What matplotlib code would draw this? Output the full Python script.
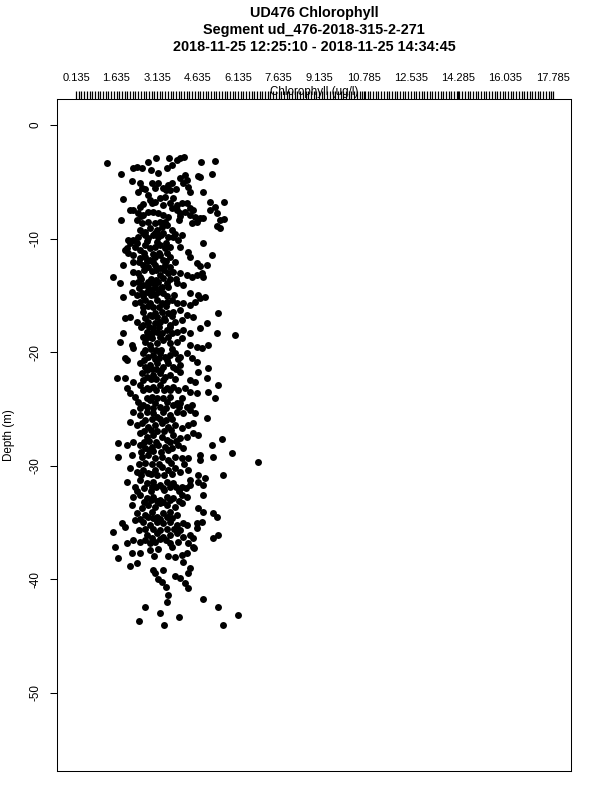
import numpy as np
import matplotlib
matplotlib.use("Agg")
import matplotlib.pyplot as plt

plt.rcParams['font.family'] = ['Liberation Sans', 'DejaVu Sans']

# chlorophyll (ug/l) and depth (m)
chl = [
    1.28, 1.80, 2.25, 2.39, 2.58, 2.80, 2.91, 3.10, 3.17, 3.50,
    3.58, 3.69, 3.87, 3.99, 4.13, 4.76, 5.28, 4.17, 4.25, 4.65,
    4.73, 5.17, 2.21, 2.51, 2.58, 2.43, 2.95, 3.17, 3.36, 3.54,
    3.69, 3.62, 3.99, 4.10, 4.28, 4.36, 4.84, 1.88, 2.13, 2.51,
    2.80, 2.88, 3.06, 3.25, 3.43, 3.73, 3.87, 4.06, 4.25, 4.36,
    4.47, 5.10, 5.62, 2.25, 2.43, 2.62, 2.80, 2.99, 3.17, 3.69,
    3.87, 3.99, 4.17, 4.36, 4.54, 4.73, 5.10, 5.28, 5.36, 5.47,
    5.62, 1.80, 2.39, 2.58, 2.80, 3.06, 3.25, 3.43, 3.95, 4.62,
    4.84, 5.36, 5.47, 2.51, 2.69, 2.88, 3.13, 3.32, 3.50, 3.69,
    4.06, 4.43, 2.25, 2.43, 2.62, 2.80, 2.99, 3.17, 3.36, 3.54,
    2.06, 2.03, 2.13, 3.73, 3.91, 4.84, 3.99, 2.32, 2.51, 2.69,
    2.88, 3.06, 3.25, 3.43, 3.62, 1.95, 2.06, 2.25, 4.28, 4.36,
    5.17, 2.51, 2.69, 2.88, 3.06, 3.25, 3.36, 3.62, 2.25, 1.88,
    2.62, 2.80, 3.06, 3.25, 3.43, 3.62, 4.62, 4.73, 4.99, 1.51,
    1.76, 2.25, 2.43, 2.51, 3.25, 3.36, 3.54, 3.73, 3.99, 4.25,
    4.43, 4.62, 4.80, 4.84, 2.25, 2.43, 2.62, 2.80, 2.99, 3.17,
    3.32, 3.50, 3.87, 4.10, 1.88, 2.21, 2.39, 2.58, 2.76, 2.95,
    3.17, 3.36, 4.36, 4.65, 4.73, 4.91, 2.32, 2.51, 2.69, 2.88,
    3.13, 3.32, 3.50, 3.69, 3.87, 4.10, 4.36, 4.54, 5.39, 1.95,
    2.13, 2.62, 2.88, 3.06, 3.32, 3.54, 3.73, 3.99, 4.25, 4.47,
    4.99, 2.39, 2.62, 2.80, 3.06, 3.25, 3.43, 3.62, 3.80, 4.06,
    1.88, 2.76, 2.95, 3.13, 3.32, 3.50, 3.69, 3.87, 4.10, 4.36,
    4.73, 5.36, 6.02,
    1.76, 2.21, 2.25, 2.69, 2.88, 3.13, 3.36,
    3.62, 3.87, 4.06, 4.36, 4.62, 4.80, 5.02, 2.03, 1.95, 2.62,
    2.80, 2.99, 3.25, 3.43, 3.62, 3.80, 3.99, 4.25, 2.51, 2.69,
    2.88, 3.13, 3.36, 3.54, 3.73, 3.99, 4.43, 4.62, 5.02, 3.99,
    4.65, 1.65, 1.95, 2.25, 2.58, 2.76, 2.99, 3.25, 3.43, 3.62,
    4.36, 4.54, 4.99, 5.39, 2.03, 2.13, 2.32, 2.51, 2.76, 2.99,
    3.25, 3.50, 3.73, 3.91, 4.17, 4.36, 4.62, 5.02, 5.28, 2.43,
    2.62, 2.88, 3.06, 3.25, 3.50, 3.73, 3.99, 4.25, 4.43, 3.87,
    2.25, 2.51, 2.76, 2.99, 3.13, 3.36, 3.62, 3.87, 4.10, 4.36,
    4.54, 4.99, 2.13, 2.39, 2.58, 2.80, 3.06, 3.32, 3.54, 3.80,
    4.06, 4.28, 4.47, 1.69, 2.03, 2.25, 2.51, 2.76, 2.99, 3.32,
    3.50, 3.73, 3.99, 4.25, 4.47, 4.65, 5.54, 5.17, 2.51, 2.69,
    2.95, 3.17, 3.43, 3.69, 3.91, 4.10, 1.69, 2.21, 2.58, 2.80,
    3.06, 3.32, 3.54, 3.80, 4.06, 4.28, 4.73, 4.73, 5.21, 5.91,
    6.87, 2.13, 2.39, 2.62, 2.80, 3.06, 3.32, 3.54, 3.80, 3.99,
    4.28, 4.65, 4.91, 5.58, 2.03, 2.32, 2.51, 2.76, 2.99, 3.25,
    3.50, 3.73, 4.06, 4.36, 4.36, 4.65, 4.84, 2.25, 2.51, 2.76,
    2.99, 3.25, 3.50, 3.73, 4.06, 4.25, 4.84, 2.21, 2.58, 2.80,
    3.06, 3.25, 3.50, 3.80, 4.06, 4.65, 2.39, 2.69, 2.95, 3.13,
    3.36, 3.62, 3.87, 4.84, 5.21, 5.36, 1.84, 1.95, 2.62, 2.88,
    3.13, 3.36, 3.62, 3.87, 4.10, 4.62, 1.51, 2.32, 4.25, 4.62,
    4.80, 2.03, 2.25, 2.51, 1.58, 2.76, 2.95, 3.13, 3.36, 3.62,
    3.87, 4.10, 4.36, 4.47, 5.21, 5.39, 2.88, 3.06, 3.62, 3.91,
    4.28, 4.47, 2.88, 3.17, 1.69, 2.21, 2.51, 3.54, 3.80, 4.06,
    4.25, 2.13, 2.39, 4.10, 2.99, 3.06, 3.36, 4.36, 4.28, 3.17,
    3.32, 3.80, 3.99, 4.17, 4.28, 3.47, 3.54, 3.50, 4.84, 2.69,
    5.39, 3.25, 3.95, 6.13, 2.47, 3.39, 5.58, 4.50, 3.69, 3.02,
]

depth = [
    -3.35, -4.31, -3.79, -3.70, -3.79, -3.26, -3.96, -2.90, -4.23, -3.79,
    -2.90, -3.52, -3.08, -2.90, -2.82, -3.26, -3.17, -4.40, -4.84, -4.49,
    -4.58, -4.31, -4.93, -5.11, -5.55, -5.90, -5.11, -5.11, -5.55, -5.28,
    -5.11, -5.72, -4.67, -5.11, -5.46, -5.90, -5.90, -6.51, -7.48, -7.22,
    -6.16, -6.60, -6.78, -6.43, -6.34, -6.43, -7.04, -6.87, -6.87, -7.31,
    -7.48, -6.78, -6.78, -7.48, -7.75, -7.92, -7.66, -7.66, -7.75, -7.31,
    -7.48, -7.75, -7.66, -7.92, -8.10, -8.19, -7.48, -7.22, -7.75, -8.36,
    -8.27, -8.36, -8.36, -8.63, -8.54, -8.63, -8.54, -8.54, -8.36, -8.54,
    -8.19, -8.89, -9.07, -9.24, -9.42, -9.07, -9.24, -8.98, -8.80, -9.24,
    -9.68, -8.63, -10.12, -9.86, -9.51, -9.95, -9.68, -9.86, -9.51, -9.86,
    -10.12, -10.83, -10.39, -9.86, -10.12, -10.39, -10.74, -10.74, -11.00, -10.56,
    -10.83, -10.74, -10.56, -10.83, -10.74, -11.00, -11.27, -11.44, -11.18, -11.62,
    -11.44, -11.71, -11.62, -11.88, -11.62, -11.44, -11.88, -11.62, -12.06, -12.32,
    -12.32, -12.50, -12.32, -12.59, -12.32, -12.50, -12.15, -12.41, -12.32, -13.38,
    -13.91, -12.94, -13.03, -13.38, -13.20, -13.47, -13.03, -12.94, -13.03, -13.20,
    -13.38, -13.20, -13.03, -13.38, -13.91, -13.82, -14.08, -13.82, -13.91, -13.82,
    -14.26, -13.91, -13.91, -14.08, -15.14, -14.70, -14.96, -14.79, -14.70, -14.52,
    -14.70, -14.79, -14.79, -14.96, -15.23, -15.14, -15.67, -15.58, -15.40, -15.67,
    -15.40, -15.67, -15.58, -15.40, -15.67, -15.67, -15.85, -15.58, -16.55, -16.99,
    -16.90, -16.46, -16.73, -16.55, -16.46, -16.55, -16.46, -16.29, -16.73, -16.90,
    -17.43, -17.34, -17.61, -17.34, -17.43, -17.34, -17.17, -17.61, -17.34, -17.17,
    -18.31, -18.22, -18.31, -18.22, -18.31, -18.05, -18.31, -18.22, -18.05, -18.31,
    -17.87, -18.31, -18.49,
    -19.10, -19.37, -19.63, -19.10, -19.37, -19.19, -18.93,
    -19.19, -19.10, -18.75, -19.37, -19.54, -19.63, -19.37, -20.69, -20.51, -20.07,
    -20.42, -20.25, -20.07, -20.42, -20.25, -20.07, -20.42, -20.07, -20.95, -21.30,
    -21.13, -20.95, -21.30, -20.95, -21.30, -21.13, -20.51, -20.86, -21.39, -21.74,
    -21.74, -22.27, -22.27, -22.62, -21.83, -22.18, -22.01, -21.83, -22.18, -22.01,
    -22.45, -22.62, -22.27, -22.89, -23.15, -23.59, -23.94, -22.89, -23.15, -23.06,
    -22.89, -23.15, -23.06, -23.33, -23.15, -23.50, -23.59, -23.50, -24.03, -24.38,
    -24.65, -24.21, -24.47, -24.82, -24.38, -24.65, -24.47, -24.82, -24.65, -24.47,
    -25.26, -25.53, -25.26, -25.35, -25.70, -25.26, -25.53, -25.26, -25.35, -25.09,
    -25.35, -25.79, -26.14, -26.41, -26.23, -26.58, -26.41, -26.23, -26.58, -26.41,
    -26.67, -26.41, -26.23, -27.99, -28.17, -27.90, -27.11, -27.46, -27.29, -27.46,
    -27.73, -27.29, -27.55, -27.46, -27.11, -27.29, -27.64, -28.17, -28.17, -28.43,
    -28.35, -28.17, -28.35, -28.43, -28.17, -28.43, -29.23, -29.05, -29.23, -29.05,
    -29.31, -29.23, -29.49, -29.23, -29.31, -29.31, -29.05, -29.49, -29.23, -28.87,
    -29.67, -30.19, -30.55, -30.37, -30.63, -30.37, -30.11, -30.37, -30.19, -30.55,
    -30.37, -30.81, -31.07, -30.81, -31.43, -31.87, -31.25, -31.51, -31.43, -31.69,
    -31.43, -31.51, -31.87, -31.25, -31.69, -31.43, -31.69, -32.75, -32.57, -32.83,
    -32.75, -33.01, -32.75, -32.83, -32.57, -32.75, -32.57, -33.45, -33.71, -33.45,
    -33.63, -33.27, -33.45, -33.63, -33.27, -33.71, -34.15, -34.33, -34.07, -34.51,
    -34.15, -34.07, -34.33, -34.07, -34.15, -34.51, -35.04, -35.39, -34.95, -35.21,
    -34.95, -35.04, -34.95, -35.21, -35.04, -35.04, -35.83, -34.77, -35.21, -35.48,
    -34.95, -36.80, -36.53, -36.71, -37.15, -36.09, -36.36, -35.92, -36.27, -36.09,
    -35.92, -36.27, -36.09, -36.36, -36.36, -36.09, -36.80, -36.71, -36.80, -36.71,
    -36.80, -37.15, -37.41, -37.32, -38.12, -37.68, -37.68, -37.94, -38.03, -37.85,
    -37.68, -38.82, -38.56, -38.47, -39.17, -39.44, -39.17, -39.00, -39.44, -39.96,
    -40.23, -39.70, -39.88, -40.32, -40.76, -40.67, -41.37, -41.99, -41.73, -42.43,
    -42.43, -42.96, -43.31, -43.13, -43.66, -44.01, -44.01, -37.24, -37.15, -37.94,
]

# extra samples in the dense central column, where dots merge into a blob
core_chl = [
    2.70, 3.05, 3.45, 3.85, 2.60, 2.95, 3.35, 3.60, 2.55, 3.35, 3.55, 4.00,
    2.70, 3.05, 3.28, 3.80, 2.40, 2.78, 3.15, 3.45, 2.65, 2.98, 3.20, 3.50,
    2.45, 2.75, 3.00, 3.45, 3.80, 2.65, 2.95, 3.10, 3.40,
    2.55, 2.90, 3.10, 3.62, 3.85, 2.45, 2.80, 3.05, 3.30, 3.55,
    2.62, 2.90, 3.05, 3.50, 3.78, 2.60, 2.80, 3.00, 3.20, 3.45,
    2.70, 2.95, 3.15, 3.40, 3.70, 2.55, 2.85, 3.00, 3.20, 3.62,
    2.60, 2.80, 2.95, 3.25, 3.55, 2.70, 2.90, 3.10, 3.30, 3.70,
    2.65, 3.05, 3.20, 3.50, 3.90, 2.75, 2.95, 3.10, 3.30, 3.85,
    2.60, 2.90, 3.10, 3.35, 3.80, 2.60, 2.85, 3.10, 3.40, 3.60,
    2.75, 2.95, 3.15, 3.35, 3.60, 4.05, 2.50, 2.75, 3.00, 3.45, 3.95,
    2.70, 2.95, 3.25, 3.45, 3.70, 2.65, 2.90, 3.15, 3.40, 3.65,
    2.65, 2.85, 3.10, 3.60, 3.85, 2.55, 2.85, 3.00, 3.30, 3.55,
    2.45, 2.70, 2.95, 3.20, 3.65, 4.15, 2.55, 2.90, 3.15, 3.40, 3.70,
    2.65, 2.95, 3.10, 3.35, 3.60, 3.85, 4.20, 2.40, 2.90, 3.40, 3.95,
    2.65, 2.90, 3.15, 3.35, 3.60, 3.95, 2.50, 2.80, 3.00, 3.25, 3.50, 3.70,
    2.45, 2.70, 3.00, 3.25, 3.50, 3.75, 4.00, 2.70, 3.25, 3.45,
]

core_depth = [
    -5.65, -5.55, -5.70, -5.60, -6.95, -6.85, -7.00, -6.90, -8.05, -7.95, -8.10, -8.00,
    -9.65, -9.55, -9.70, -9.60, -10.35, -10.25, -10.30, -10.40, -11.30, -11.35, -11.25, -11.30,
    -12.05, -11.95, -12.10, -12.00, -12.05, -12.75, -12.85, -12.80, -12.75,
    -13.60, -13.55, -13.65, -13.60, -13.55, -14.35, -14.25, -14.30, -14.35, -14.25,
    -15.05, -15.00, -14.95, -15.05, -15.00, -16.05, -15.95, -16.00, -16.05, -15.95,
    -16.95, -16.85, -16.90, -16.95, -16.85, -17.80, -17.75, -17.85, -17.80, -17.75,
    -18.70, -18.65, -18.75, -18.70, -18.65, -19.85, -19.75, -19.80, -19.85, -19.75,
    -20.65, -20.60, -20.55, -20.65, -20.60, -21.55, -21.45, -21.50, -21.55, -21.45,
    -22.45, -22.35, -22.40, -22.45, -22.35, -23.35, -23.25, -23.30, -23.35, -23.30,
    -24.05, -23.95, -24.00, -24.05, -23.95, -24.00, -24.95, -24.85, -24.90, -24.95, -24.85,
    -25.95, -25.85, -25.90, -25.95, -25.85, -26.95, -26.85, -26.90, -26.95, -26.85,
    -27.95, -27.85, -27.90, -27.95, -27.85, -28.75, -28.65, -28.70, -28.75, -28.65,
    -29.85, -29.75, -29.80, -29.85, -29.75, -29.80, -30.85, -30.75, -30.80, -30.85, -30.75,
    -31.95, -31.85, -31.90, -31.95, -31.85, -31.90, -31.95, -32.20, -32.25, -32.15, -32.20,
    -33.15, -33.05, -33.10, -33.15, -33.05, -33.10, -34.65, -34.55, -34.60, -34.65, -34.55, -34.60,
    -35.65, -35.55, -35.60, -35.65, -35.55, -35.60, -35.65, -36.55, -36.45, -36.50,
]

x_labels = [0.135, 1.635, 3.135, 4.635, 6.135, 7.635, 9.135,
            10.785, 12.535, 14.285, 16.035, 17.785]
y_ticks = [0, -10, -20, -30, -40, -50]

title_lines = ["UD476 Chlorophyll",
               "Segment ud_476-2018-315-2-271",
               "2018-11-25 12:25:10 - 2018-11-25 14:34:45"]

fig = plt.figure(figsize=(6, 8), dpi=100)
ax = fig.add_axes([57 / 600, 1 - 771 / 800, 514 / 600, 672 / 800])

ax.plot(chl + core_chl, depth + core_depth, 'o', color='black',
        markersize=5.0, markeredgewidth=0)

ax.set_xlim(-0.569, 18.468)
ax.set_ylim(-56.87, 2.29)

# top axis with a dense comb of ticks
ax.xaxis.tick_top()
ax.set_xticks(x_labels)
ax.set_xticklabels([f"{v:.3f}" for v in x_labels], fontsize=8.0)
ax.set_xticks(np.arange(0.135, 17.80, 0.1), minor=True)
ax.tick_params(axis='x', which='both', direction='out', length=6,
               width=0.9, pad=5.5, top=True, bottom=False)

ax.set_yticks(y_ticks)
ax.set_yticklabels([str(v) for v in y_ticks], rotation=90, va='center',
                   fontsize=8.4)
ax.tick_params(axis='y', direction='out', length=5, width=0.75, pad=6)

for s in ax.spines.values():
    s.set_linewidth(0.75)

fig.text(314 / 600, 1 - 92 / 800, "Chlorophyll (ug/l)", ha='center',
         va='center', fontsize=8.4)
fig.text(9 / 600, 1 - 435 / 800, "Depth (m)", ha='center', va='center',
         rotation=90, fontsize=8.4)

for i, line in enumerate(title_lines):
    fig.text(314 / 600, 1 - (13 + 17 * i) / 800, line, ha='center',
             va='center', fontsize=10.4, fontweight='bold')

fig.savefig("out.png", dpi=100)
